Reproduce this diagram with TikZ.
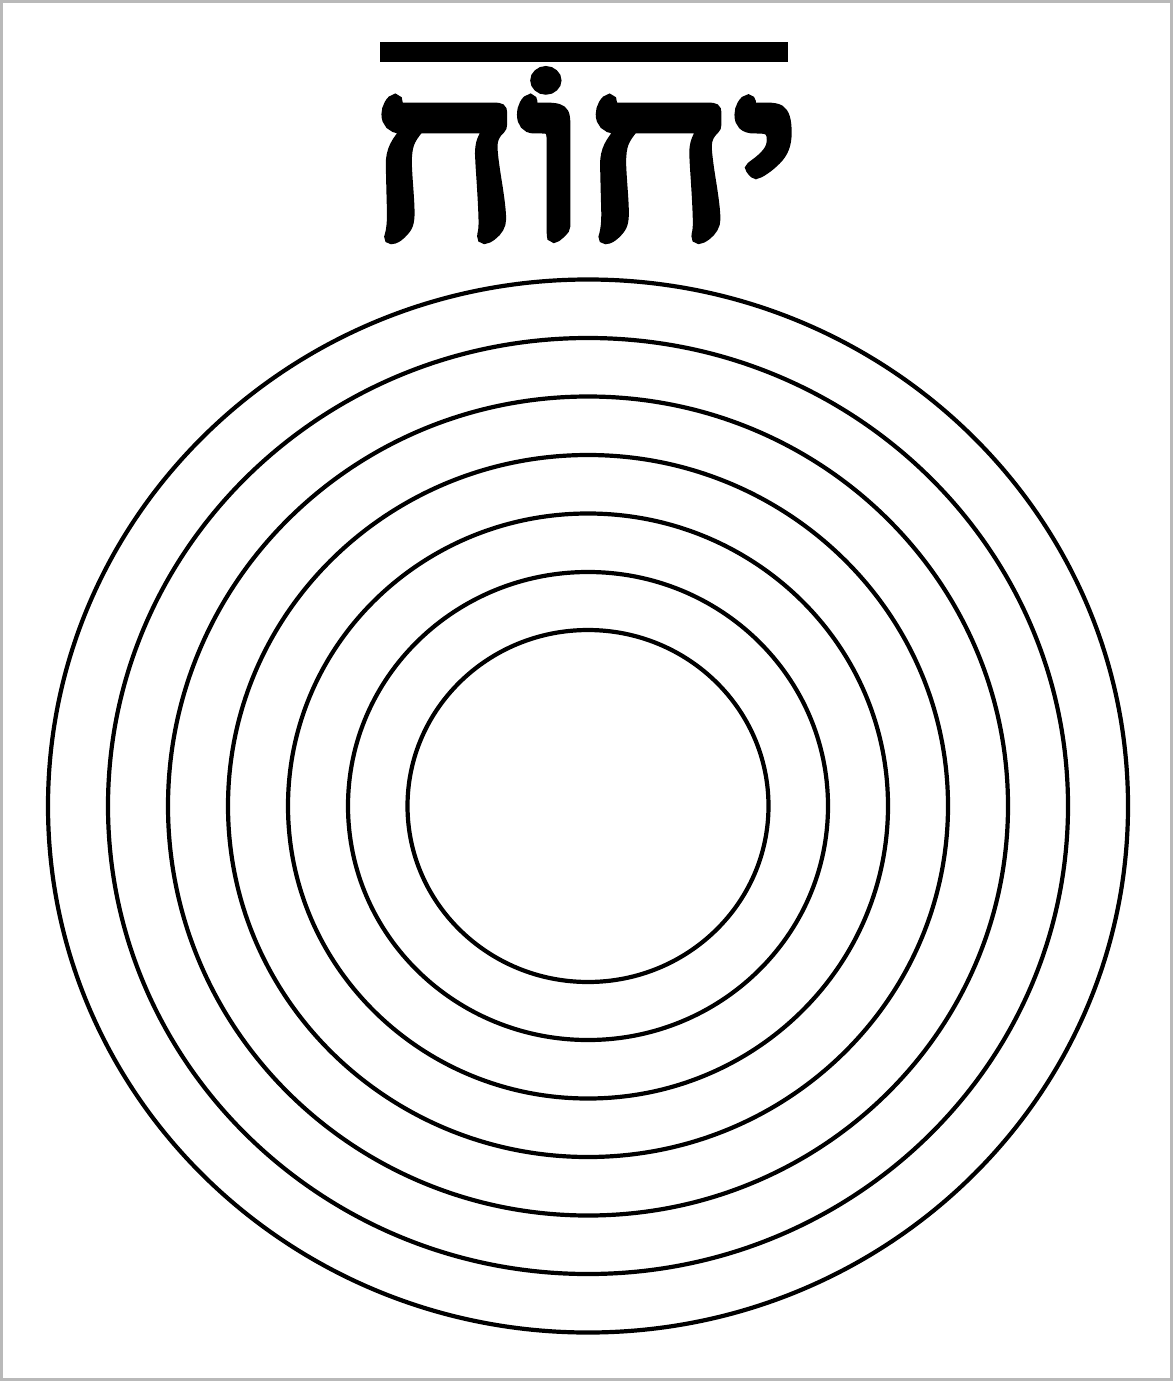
\documentclass[tikz,border=0pt]{standalone}
\usepackage{fontspec}
\TeXXeTstate=1
\newfontfamily\hebfont[Script=Hebrew,FakeBold=4.5]{Liberation Serif}
\begin{document}
\begin{tikzpicture}[x=1pt,y=-1pt,
  ring/.style={draw=black,line width=4.2pt},
  frame/.style={draw=gray!55,line width=3pt}]
\useasboundingbox (0,0) rectangle (1173,1381);
\fill[white] (0,0) rectangle (1173,1381);
\draw[frame] (1.5,1.5) rectangle (1171.5,1379.5);
% bar above the name
\fill[black] (380,42) rectangle (788,62);
% the name
\node[anchor=base,inner sep=0pt,xscale=1.33,yscale=1.22] (name) at (585,236)
  {\fontsize{190}{190}\selectfont\hebfont\beginR יחוֹח\endR};
% concentric rings
\coordinate (c) at (588,806);
\foreach \r in {180.5,240,300,360,420,480,540}{
  \draw[ring] (c) ellipse [x radius=\r pt, y radius=0.975*\r pt];
}
\end{tikzpicture}
\end{document}
